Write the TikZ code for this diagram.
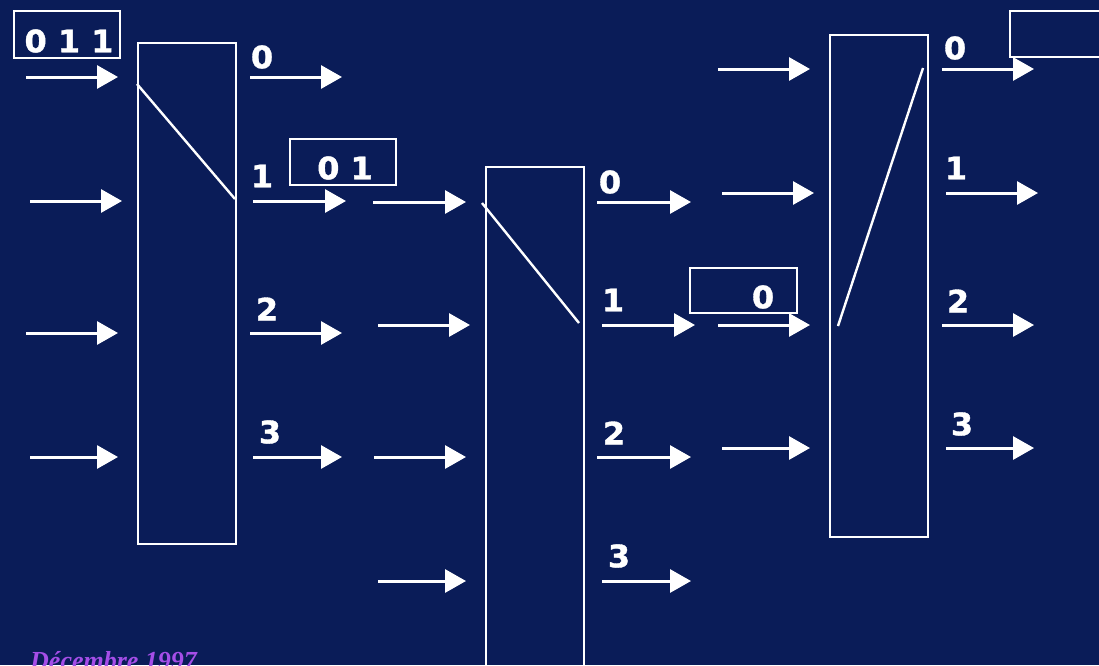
\documentclass[tikz,border=0pt]{standalone}
\usepackage{fontspec}
\usetikzlibrary{arrows.meta}
\newfontfamily\lblfont[FakeStretch=1.03,FakeBold=1.2]{DejaVu Sans Bold}
\newfontfamily\datefont{Liberation Serif}
\definecolor{bgnavy}{RGB}{10,28,88}
\definecolor{datepurple}{RGB}{165,78,232}
\begin{document}
\begin{tikzpicture}[x=1pt,y=-1pt,
  switchbox/.style={draw=white,line width=2.4pt,minimum width=98pt,anchor=north west,inner sep=0pt},
  tagbox/.style={draw=white,line width=2.4pt,anchor=north west,inner sep=0pt},
  arr/.style={draw=white,line width=3pt,-{Triangle[length=21pt,width=23pt]}},
  link/.style={draw=white,line width=2.4pt},
  lbl/.style={text=white,font=\lblfont\fontsize{31}{31}\selectfont,inner sep=0pt},
  datelbl/.style={text=datepurple,font=\datefont\bfseries\itshape\fontsize{26}{26}\selectfont,inner sep=0pt,anchor=base west}]
\fill[bgnavy] (0,0) rectangle (1099,665);
\useasboundingbox (0,0) rectangle (1099,665);

% switches
\node[switchbox,minimum height=501pt] (s1) at (137,42) {};
\node[switchbox,minimum height=520pt] (s2) at (485,166) {};
\node[switchbox,minimum height=502pt] (s3) at (829,34) {};

% switch contacts
\coordinate (c1a) at (137,84);  \coordinate (c1b) at (235,199);
\coordinate (c2a) at (482,203); \coordinate (c2b) at (579,323);
\coordinate (c3a) at (923,68);  \coordinate (c3b) at (838,326);
\draw[link] (c1a) -- (c1b);
\draw[link] (c2a) -- (c2b);
\draw[link] (c3a) -- (c3b);

% tag boxes
\node[tagbox,minimum width=106pt,minimum height=47pt] (t1) at (13,10) {};
\node[tagbox,minimum width=106pt,minimum height=46pt] (t2) at (289,138) {};
\node[tagbox,minimum width=107pt,minimum height=45pt] (t3) at (689,267) {};
\node[tagbox,minimum width=110pt,minimum height=46pt] (t4) at (1009,10) {};

\node[lbl] (v1) at (69,41) {0 1 1};
\node[lbl] (v2) at (345,168) {0 1};
\node[lbl] (v3) at (763,297) {0};

% arrows
\foreach \xa/\xb/\yy [count=\i] in {
  26/118/77, 30/122/201, 26/118/333, 30/118/457,
  250/342/77, 253/346/201, 250/342/333, 253/342/457,
  373/466/202, 378/470/325, 374/466/457, 378/466/581,
  597/691/202, 602/695/325, 597/691/457, 602/691/581,
  718/810/69, 722/814/193, 718/810/325, 722/810/448,
  942/1034/69, 946/1038/193, 942/1034/325, 946/1034/448} {
  \coordinate (p\i) at (\xa,\yy);
  \coordinate (q\i) at (\xb,\yy);
  \draw[arr] (p\i) -- (q\i);
}

% port labels
\node[lbl] (o10) at (262,57) {0};
\node[lbl] (o11) at (262,176) {1};
\node[lbl] (o12) at (267,309) {2};
\node[lbl] (o13) at (270,432) {3};
\node[lbl] (o20) at (610,182) {0};
\node[lbl] (o21) at (613,300) {1};
\node[lbl] (o22) at (614,433) {2};
\node[lbl] (o23) at (619,556) {3};
\node[lbl] (o30) at (955,48) {0};
\node[lbl] (o31) at (956,168) {1};
\node[lbl] (o32) at (958,301) {2};
\node[lbl] (o33) at (962,424) {3};

\node[datelbl] (date) at (30,669) {Décembre 1997};
\end{tikzpicture}
\end{document}
